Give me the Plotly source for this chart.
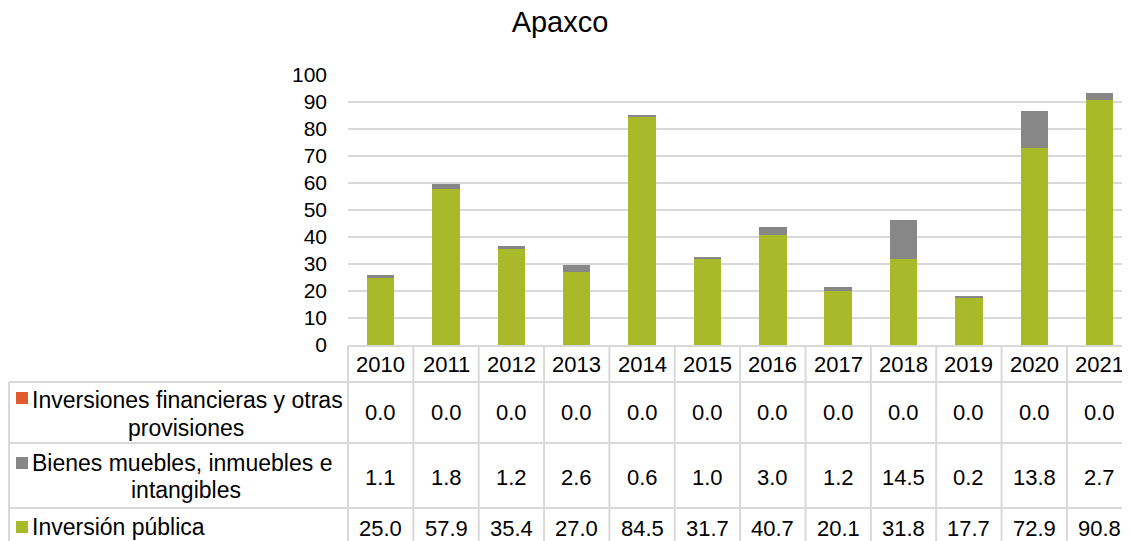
import plotly.graph_objects as go

# data
years = ["2010", "2011", "2012", "2013", "2014", "2015", "2016", "2017", "2018", "2019", "2020", "2021"]
inversiones_fin = [0.0, 0.0, 0.0, 0.0, 0.0, 0.0, 0.0, 0.0, 0.0, 0.0, 0.0, 0.0]
bienes = [1.1, 1.8, 1.2, 2.6, 0.6, 1.0, 3.0, 1.2, 14.5, 0.2, 13.8, 2.7]
inversion_pub = [25.0, 57.9, 35.4, 27.0, 84.5, 31.7, 40.7, 20.1, 31.8, 17.7, 72.9, 90.8]
y_ticks = [0, 10, 20, 30, 40, 50, 60, 70, 80, 90, 100]

series = [
    ("Inversión pública", inversion_pub, "#A8B92A"),
    ("Bienes muebles, inmuebles e intangibles", bienes, "#878787"),
    ("Inversiones financieras y otras provisiones", inversiones_fin, "#E05A2B"),
]

W, H = 1130, 541
OFF = 8  # page body margin
FONT = "Liberation Sans, Arial, sans-serif"
GRID = "#D9D9D9"


def px_x(x):
    return (x - OFF) / W


def px_y(y):
    return 1 - (y - OFF) / H


x0_plot, x1_plot = 348, 1132.3
y_zero, y_top = 345, 75
n = len(years)
cell_w = (x1_plot - x0_plot) / n

fig = go.Figure()
for name, vals, color in series:
    fig.add_trace(go.Bar(
        x=years, y=vals, name=name, marker_color=color,
        marker_line_width=0, width=0.42, showlegend=False
    ))

fig.update_layout(
    width=W, height=H,
    barmode="stack",
    margin=dict(l=0, r=0, t=0, b=0),
    plot_bgcolor="white", paper_bgcolor="white",
    font=dict(family=FONT, color="#000000", size=21),
    title=dict(text="Apaxco", x=px_x(560), xanchor="center",
               y=px_y(22), yanchor="middle", font=dict(size=29)),
    xaxis=dict(type="category", domain=[px_x(x0_plot), px_x(x1_plot)], range=[-0.5, n - 0.5],
               showticklabels=False, showgrid=False, zeroline=False, showline=False, ticks=""),
    yaxis=dict(domain=[px_y(y_zero), px_y(y_top)], range=[0, 100], tickvals=y_ticks,
               showgrid=True, gridcolor=GRID, gridwidth=1.5, zeroline=False,
               showline=False, ticks="", ticklabelstandoff=20, automargin=False,
               tickfont=dict(size=21)),
)

# table lines
shapes = []
row_lines = [382, 443, 508]
line = dict(color=GRID, width=2)
shapes.append(dict(type="line", xref="paper", yref="paper", x0=px_x(x0_plot), x1=px_x(x1_plot),
                   y0=px_y(346), y1=px_y(346), line=line))
for yl in row_lines:
    shapes.append(dict(type="line", xref="paper", yref="paper", x0=px_x(9), x1=px_x(x1_plot),
                       y0=px_y(yl), y1=px_y(yl), line=line))
shapes.append(dict(type="line", xref="paper", yref="paper", x0=px_x(9), x1=px_x(9),
                   y0=px_y(382), y1=px_y(560), line=line))
for i in range(n + 1):
    xv = x0_plot + i * cell_w
    shapes.append(dict(type="line", xref="paper", yref="paper", x0=px_x(xv), x1=px_x(xv),
                       y0=px_y(346), y1=px_y(560), line=line))

annotations = []
for i, yr in enumerate(years):
    annotations.append(dict(x=i, xref="x", yref="paper", y=px_y(364), yanchor="middle",
                            text=yr, showarrow=False, font=dict(size=22)))

rows = [
    (inversiones_fin, 412, "#E05A2B", 398, ["Inversiones financieras y otras", "provisiones"], [400, 428]),
    (bienes, 477, "#878787", 463, ["Bienes muebles, inmuebles e", "intangibles"], [463, 490]),
    (inversion_pub, 528, "#A8B92A", 527, ["Inversión pública"], [527]),
]
for vals, yc, color, ysq, labels, ylab in rows:
    for i, v in enumerate(vals):
        annotations.append(dict(x=i, xref="x", yref="paper", y=px_y(yc), yanchor="middle",
                                text=f"{v:.1f}", showarrow=False, font=dict(size=22)))
    shapes.append(dict(type="rect", xref="paper", yref="paper", x0=px_x(16), x1=px_x(28),
                       y0=px_y(ysq - 6), y1=px_y(ysq + 6), fillcolor=color, line_width=0))
    annotations.append(dict(x=px_x(30), xref="paper", yref="paper", y=px_y(ylab[0]),
                            yanchor="middle", text=labels[0], xanchor="left",
                            showarrow=False, font=dict(size=23)))
    if len(labels) > 1:
        annotations.append(dict(x=px_x(186), xref="paper", yref="paper", y=px_y(ylab[1]),
                                yanchor="middle", text=labels[1], xanchor="center",
                                showarrow=False, font=dict(size=23)))

fig.update_layout(shapes=shapes, annotations=annotations)

fig.write_html("out.html")
